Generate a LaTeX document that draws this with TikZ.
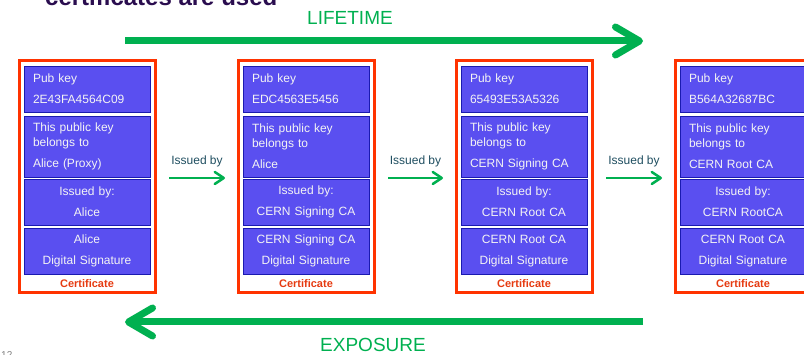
\documentclass[tikz,border=0pt]{standalone}
\usepackage{fontspec}
\setmainfont{Liberation Sans}
\usetikzlibrary{arrows.meta}
\definecolor{fieldblue}{HTML}{5A4FF0}
\definecolor{fieldline}{HTML}{1A1AB0}
\definecolor{fieldtext}{HTML}{F4F4F4}
\definecolor{certred}{HTML}{FF3300}
\definecolor{certlabel}{HTML}{E63A10}
\definecolor{flowgreen}{HTML}{00B050}
\definecolor{issuetext}{HTML}{1F4E60}
\definecolor{titlepurple}{HTML}{2A0D4F}

\begin{document}
\begin{tikzpicture}[x=1pt,y=-1pt,
    field/.style={draw=fieldline, fill=fieldblue, text=fieldtext, line width=0.8pt,
        minimum width=126pt, text width=108pt, inner xsep=9pt, inner ysep=0pt,
        font=\fontsize{12}{14.4}\selectfont},
    keyfield/.style={field, minimum height=46pt, align=left},
    ownerfield/.style={field, minimum height=61pt, align=left},
    signfield/.style={field, minimum height=46pt, align=center},
    certframe/.style={draw=certred, line width=3pt, minimum width=136pt, minimum height=232pt},
    certtext/.style={text=certlabel, font=\bfseries\fontsize{11}{13}\selectfont},
    issuedby/.style={draw=flowgreen, line width=2.5pt, -{Straight Barb[length=9pt,width=12pt,round]}},
    issuelabel/.style={text=issuetext, font=\fontsize{12}{14}\selectfont},
    bigflow/.style={draw=flowgreen, line width=7pt, -{Straight Barb[length=24pt,width=28pt,round]}},
    flowlabel/.style={text=flowgreen, font=\fontsize{19}{22}\selectfont}]
    \clip (0,0) rectangle (804,355);

    % Slide title (cut off) and page number
    \node[anchor=base west, inner sep=0pt, text=titlepurple, font=\bfseries\fontsize{24}{28}\selectfont] (title) at (45,6) {certificates are used};
    \node[anchor=base west, inner sep=0pt, text=gray, font=\fontsize{10}{12}\selectfont] (pageno) at (1,359) {12};

    % Lifetime
    \coordinate (lifeStart) at (125,41);
    \coordinate (lifeEnd) at (643,41);
    \draw[bigflow] (lifeStart) -- (lifeEnd);
    \node[flowlabel] (life) at (350,18) {LIFETIME};

    % Certificate 1: proxy
    \node[certframe] (cert1) at (87.5,176.5) {};
    \node[keyfield] (pk1) at (87,89) {Pub key\\[7pt]2E43FA4564C09};
    \node[ownerfield] (own1) at (87,146.5) {This public key\\belongs to\\[7pt]Alice (Proxy)};
    \node[signfield] (iss1) at (87,202) {Issued by:\\[7pt]Alice};
    \node[signfield] (sig1) at (87,251) {Alice\\[7pt]Digital Signature};
    \node[certtext] (lab1) at (87,284) {Certificate};

    % Certificate 2: user
    \node[certframe] (cert2) at (306.5,176.5) {};
    \node[keyfield] (pk2) at (306,89) {Pub key\\[7pt]EDC4563E5456};
    \node[ownerfield] (own2) at (306,146.5) {This public key\\belongs to\\[7pt]Alice};
    \node[signfield] (iss2) at (306,202) {Issued by:\\[7pt]CERN Signing CA};
    \node[signfield] (sig2) at (306,251) {CERN Signing CA\\[7pt]Digital Signature};
    \node[certtext] (lab2) at (306,284) {Certificate};

    % Certificate 3: signing CA
    \node[certframe] (cert3) at (524.5,176.5) {};
    \node[keyfield] (pk3) at (524,89) {Pub key\\[7pt]65493E53A5326};
    \node[ownerfield] (own3) at (524,146.5) {This public key\\belongs to\\[7pt]CERN Signing CA};
    \node[signfield] (iss3) at (524,202) {Issued by:\\[7pt]CERN Root CA};
    \node[signfield] (sig3) at (524,251) {CERN Root CA\\[7pt]Digital Signature};
    \node[certtext] (lab3) at (524,284) {Certificate};

    % Certificate 4: root CA
    \node[certframe] (cert4) at (743.5,176.5) {};
    \node[keyfield] (pk4) at (743,89) {Pub key\\[7pt]B564A32687BC};
    \node[ownerfield] (own4) at (743,146.5) {This public key\\belongs to\\[7pt]CERN Root CA};
    \node[signfield] (iss4) at (743,202) {Issued by:\\[7pt]CERN RootCA};
    \node[signfield] (sig4) at (743,251) {CERN Root CA\\[7pt]Digital Signature};
    \node[certtext] (lab4) at (743,284) {Certificate};

    % Issued by arrows
    \draw[issuedby] ([xshift=12pt,yshift=-1.5pt]cert1.east) -- ([xshift=-12pt,yshift=-1.5pt]cert2.west)
        node[issuelabel, midway, yshift=17pt] (by1) {Issued by};
    \draw[issuedby] ([xshift=12pt,yshift=-1.5pt]cert2.east) -- ([xshift=-12pt,yshift=-1.5pt]cert3.west)
        node[issuelabel, midway, yshift=17pt] (by2) {Issued by};
    \draw[issuedby] ([xshift=12pt,yshift=-1.5pt]cert3.east) -- ([xshift=-12pt,yshift=-1.5pt]cert4.west)
        node[issuelabel, midway, yshift=17pt] (by3) {Issued by};

    % Exposure
    \coordinate (expoStart) at (643,322);
    \coordinate (expoEnd) at (125,322);
    \draw[bigflow] (expoStart) -- (expoEnd);
    \node[flowlabel] (expo) at (373,345) {EXPOSURE};
\end{tikzpicture}
\end{document}
